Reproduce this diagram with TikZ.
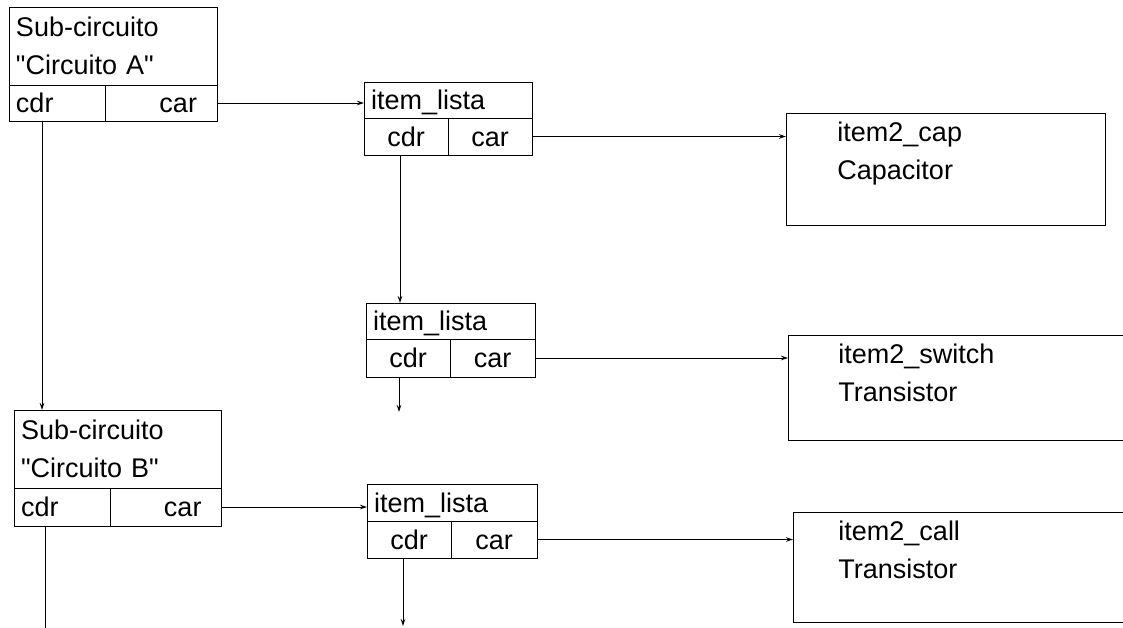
\documentclass[tikz,border=0pt]{standalone}
\usepackage{fontspec}
\setmainfont{Liberation Sans}[Ligatures=TeXOff]
\usetikzlibrary{arrows.meta}

\begin{document}
\begin{tikzpicture}[
  x=1pt,y=-1pt,
  font=\fontsize{27}{38}\selectfont,
  line width=0.9pt,
  cell/.style={draw,rectangle,anchor=north west,inner sep=0pt,outer sep=0pt},
  row/.style={cell,text height=19pt,text depth=0pt},
  txt/.style={anchor=north west,inner sep=0pt,align=left},
  >={Stealth[length=7pt,width=4.5pt]}
]
\useasboundingbox (0,0) rectangle (1123,627);
\clip (0,0) rectangle (1123,627);
% ---- sub-circuitos ----
\node[cell,minimum width=208pt,minimum height=78pt,text width=194pt,align=left] (hA) at (9,7) {Sub-circuito\\"Circuito A"};
\node[row,minimum width=96pt,minimum height=36pt,text width=82pt,align=left] (dA) at (9,85) {cdr};
\node[row,minimum width=112pt,minimum height=36pt,text width=72pt,align=right] (rA) at (105,85) {car};
\node[cell,minimum width=207pt,minimum height=78pt,text width=193pt,align=left] (hB) at (14,410) {Sub-circuito\\"Circuito B"};
\node[row,minimum width=96pt,minimum height=38pt,text width=82pt,align=left] (dB) at (14,488) {cdr};
\node[row,minimum width=111pt,minimum height=38pt,text width=72pt,align=right] (rB) at (110,488) {car};
% ---- item_lista ----
\node[row,minimum width=168pt,minimum height=36pt,text width=154pt,align=left] (hL1) at (364,82) {item\_lista};
\node[row,minimum width=84pt,minimum height=37pt] (dL1) at (364,118) {cdr};
\node[row,minimum width=84pt,minimum height=37pt] (rL1) at (448,118) {car};
\node[row,minimum width=169pt,minimum height=36pt,text width=155pt,align=left] (hL2) at (366,303) {item\_lista};
\node[row,minimum width=84pt,minimum height=38pt] (dL2) at (366,339) {cdr};
\node[row,minimum width=85pt,minimum height=38pt] (rL2) at (450,339) {car};
\node[row,minimum width=170pt,minimum height=37pt,text width=156pt,align=left] (hL3) at (367,484) {item\_lista};
\node[row,minimum width=84pt,minimum height=37pt] (dL3) at (367,521) {cdr};
\node[row,minimum width=86pt,minimum height=37pt] (rL3) at (451,521) {car};
% ---- item2 ----
\node[cell,minimum width=319pt,minimum height=112pt] (cap) at (786,113) {};
\node[txt] (capT) at ([xshift=51pt,yshift=-8pt]cap.north west) {item2\_cap\\Capacitor};
\node[cell,minimum width=360pt,minimum height=105pt] (sw) at (788,335) {};
\node[txt] (swT) at ([xshift=50pt,yshift=-8pt]sw.north west) {item2\_switch\\Transistor};
\node[cell,minimum width=360pt,minimum height=110pt] (call) at (793,512) {};
\node[txt] (callT) at ([xshift=45pt,yshift=-8pt]call.north west) {item2\_call\\Transistor};
% ---- ligacoes ----
\coordinate (endL2) at (399,412);
\coordinate (endL3) at (403,626);
\coordinate (endB) at (45,630);
\draw[->] (rA.east) -- (rA.east -| hL1.west);
\draw[->] (rB.east) -- (rB.east -| hL3.west);
\draw[->] (rL1.east) -- (rL1.east -| cap.west);
\draw[->] (rL2.east) -- (rL2.east -| sw.west);
\draw[->] (rL3.east) -- (rL3.east -| call.west);
\draw[->] ([xshift=33pt]dA.south west) -- ([xshift=33pt]dA.south west |- hB.north);
\draw[->] ([xshift=36pt]dL1.south west) -- ([xshift=36pt]dL1.south west |- hL2.north);
\draw[->] (dL2.south west -| endL2) -- (endL2);
\draw[->] (dL3.south west -| endL3) -- (endL3);
\draw (dB.south west -| endB) -- (endB);
\end{tikzpicture}
\end{document}
